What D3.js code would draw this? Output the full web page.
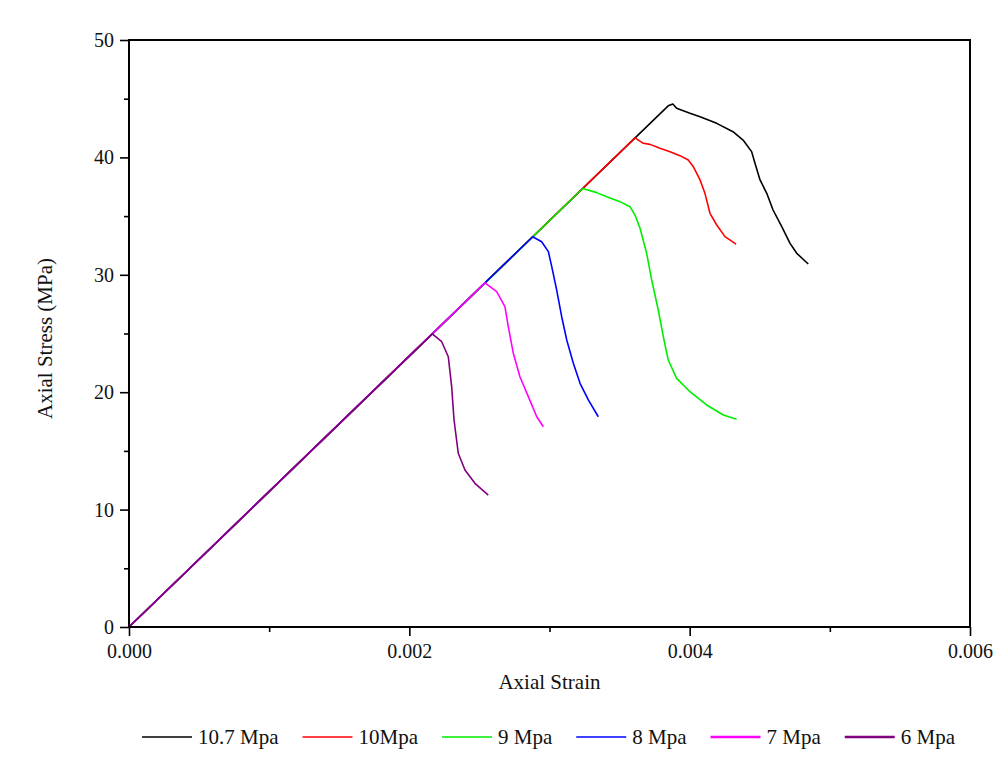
<!DOCTYPE html>
<html>
<head>
<meta charset="utf-8">
<script src="https://cdn.jsdelivr.net/npm/d3@7"></script>
<style>
  body { margin: 0; background: #fff; }
  text { font-family: "Liberation Serif", "Times New Roman", serif; fill: #111; }
</style>
</head>
<body>
<svg id="chart" width="1005" height="765"></svg>
<script>
// series labels + colours, in drawing order (last drawn sits on top)
const seriesNames = ['10.7 Mpa', '10Mpa', '9 Mpa', '8 Mpa', '7 Mpa', '6 Mpa'];
const seriesColors = ['#000000', '#ff0000', '#00ee00', '#0000ff', '#ff00ff', '#800080'];

// [axial strain, axial stress (MPa)]
const s10_7 = [[0, 0], [0.003847, 44.39], [0.003880, 44.55], [0.003907, 44.18], [0.004002, 43.76], [0.004074, 43.47],
  [0.004193, 42.90], [0.004309, 42.19], [0.004381, 41.48], [0.004442, 40.49], [0.004466, 39.50],
  [0.004502, 38.08], [0.004550, 36.94], [0.004595, 35.52], [0.004657, 34.10], [0.004716, 32.68],
  [0.004764, 31.83], [0.004846, 30.92]];
const s10 = [[0, 0], [0.003610, 41.66], [0.003669, 41.20], [0.003717, 41.11], [0.003788, 40.77], [0.003860, 40.49],
  [0.003931, 40.15], [0.003990, 39.78], [0.004026, 39.21], [0.004074, 38.08], [0.004109, 36.94],
  [0.004145, 35.24], [0.004193, 34.24], [0.004252, 33.25], [0.004331, 32.62]];
const s9 = [[0, 0], [0.003237, 37.35], [0.003337, 37.00], [0.003408, 36.65], [0.003503, 36.23], [0.003574, 35.80],
  [0.003610, 35.09], [0.003646, 33.96], [0.003693, 31.83], [0.003729, 29.56], [0.003776, 27.00],
  [0.003812, 24.73], [0.003847, 22.74], [0.003907, 21.18], [0.004002, 20.04], [0.004121, 18.91],
  [0.004240, 18.06], [0.004335, 17.69]];
const s8 = [[0, 0], [0.002880, 33.24], [0.002944, 32.82], [0.002992, 31.97], [0.003016, 30.69], [0.003051, 28.71],
  [0.003087, 26.43], [0.003123, 24.45], [0.003170, 22.46], [0.003218, 20.76], [0.003277, 19.34],
  [0.003348, 17.91]];
const s7 = [[0, 0], [0.002540, 29.31], [0.002623, 28.56], [0.002682, 27.28], [0.002706, 25.58], [0.002742, 23.31],
  [0.002789, 21.32], [0.002849, 19.62], [0.002909, 17.91], [0.002956, 17.06]];
const s6 = [[0, 0], [0.002164, 24.97], [0.002231, 24.30], [0.002278, 23.02], [0.002302, 20.47], [0.002319, 17.63],
  [0.002349, 14.80], [0.002397, 13.37], [0.002468, 12.24], [0.002563, 11.24]];
const seriesData = [s10_7, s10, s9, s8, s7, s6];

const xMajor = [0, 0.002, 0.004, 0.006];
const xMinor = [0.001, 0.003, 0.005];
const yMajor = [0, 10, 20, 30, 40, 50];
const yMinor = [5, 15, 25, 35, 45];

const svg = d3.select('#chart');
const m = {left: 129, top: 40, right: 35, bottom: 138};
const W = 1005 - m.left - m.right, H = 765 - m.top - m.bottom;

const x = d3.scaleLinear().domain([0, 0.006]).range([0, W]);
const y = d3.scaleLinear().domain([0, 50]).range([H, 0]);

const g = svg.append('g').attr('transform', `translate(${m.left},${m.top})`);

// curves
const line = d3.line().x(d => x(d[0])).y(d => y(d[1]));
seriesData.forEach((d, i) => {
  g.append('path')
    .datum(d)
    .attr('fill', 'none')
    .attr('stroke', seriesColors[i])
    .attr('stroke-width', 1.6)
    .attr('stroke-linejoin', 'round')
    .attr('d', line);
});

// axes
g.append('g').attr('transform', `translate(0,${H})`)
  .call(d3.axisBottom(x).tickValues(xMajor).tickFormat(d3.format('.3f')).tickSize(9).tickPadding(8));
g.append('g').attr('transform', `translate(0,${H})`)
  .call(d3.axisBottom(x).tickValues(xMinor).tickFormat('').tickSize(5));
g.append('g')
  .call(d3.axisLeft(y).tickValues(yMajor).tickSize(9).tickPadding(6));
g.append('g')
  .call(d3.axisLeft(y).tickValues(yMinor).tickFormat('').tickSize(5));

g.selectAll('.domain').remove();
g.selectAll('.tick line').attr('stroke', '#000').attr('stroke-width', 1.6);
g.selectAll('.tick text').style('font-size', '20px').style('font-family', '"Liberation Serif", serif').attr('fill', '#111');

// frame
g.append('rect')
  .attr('width', W).attr('height', H)
  .attr('fill', 'none').attr('stroke', '#000').attr('stroke-width', 2);

// axis titles
g.append('text')
  .attr('x', W / 2).attr('y', H + 62)
  .attr('text-anchor', 'middle')
  .style('font-size', '21px')
  .text('Axial Strain');
svg.append('text')
  .attr('transform', `translate(52,${m.top + H / 2 + 5}) rotate(-90)`)
  .attr('text-anchor', 'middle')
  .style('font-size', '21px')
  .text('Axial Stress (MPa)');

// legend
const leg = svg.append('g').attr('transform', 'translate(142,737)');
let cx = 0;
seriesNames.forEach((name, i) => {
  const it = leg.append('g').attr('transform', `translate(${cx},0)`);
  it.append('line')
    .attr('x1', 0).attr('x2', 50)
    .attr('stroke', seriesColors[i])
    .attr('stroke-width', i >= 4 ? 2.4 : 1.6);
  const t = it.append('text')
    .attr('x', 56).attr('dy', '0.35em')
    .style('font-size', '21px')
    .text(name);
  cx += 56 + t.node().getComputedTextLength() + 24;
});
</script>
</body>
</html>
